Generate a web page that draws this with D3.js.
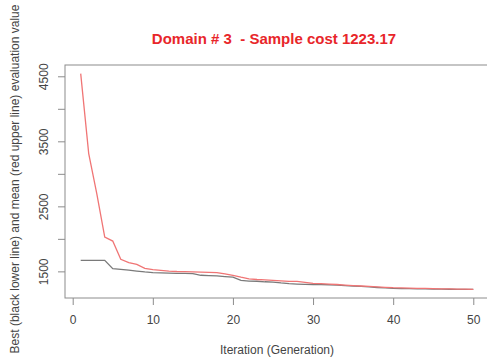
<!DOCTYPE html>
<html>
<head>
<meta charset="utf-8">
<script src="https://cdn.jsdelivr.net/npm/d3@7"></script>
<style>
  body { margin: 0; background: #fff; }
  svg { display: block; font-family: "Liberation Sans", Arial, sans-serif; }
</style>
</head>
<body>
<svg id="canvas" width="487" height="362"></svg>
<script>
// ------------------------------------------------------------------ //
// Data

var iteration = d3.range(1, 51);
var mean_cost = [4541, 3311, 2700, 2028, 1966, 1685, 1634, 1608, 1545, 1526,
                 1515, 1505, 1498, 1495, 1492, 1488, 1485, 1482, 1460, 1438,
                 1410, 1385, 1375, 1368, 1362, 1355, 1346, 1345, 1330, 1315,
                 1310, 1305, 1298, 1290, 1282, 1275, 1268, 1262, 1255, 1249,
                 1246, 1243, 1240, 1237, 1234, 1232, 1230, 1228, 1226, 1224];
var best_cost = [1669, 1669, 1669, 1669, 1541, 1530, 1520, 1505, 1492, 1482,
                 1478, 1474, 1470, 1468, 1465, 1440, 1436, 1432, 1420, 1410,
                 1360, 1350, 1348, 1340, 1335, 1322, 1312, 1305, 1300, 1298,
                 1296, 1294, 1290, 1282, 1275, 1268, 1260, 1252, 1245, 1238,
                 1236, 1234, 1232, 1230, 1228, 1226, 1225, 1224, 1223.5, 1223.17];
var x_ticks = [0, 10, 20, 30, 40, 50];
var y_ticks = [1500, 2000, 2500, 3000, 3500, 4000, 4500];
var y_labels = [1500, 2500, 3500, 4500];

var title_text = 'Domain # 3  - Sample cost 1223.17';
var x_title = 'Iteration (Generation)';
var y_title = 'Best (black lower line) and mean (red upper line) evaluation value';

// ------------------------------------------------------------------ //
// Layout

var plot = { left: 65, right: 489, top: 65, bottom: 298 };
var svg = d3.select('#canvas');

// R style 4% padding on both axes
function padded(ext){ var r = ext[1] - ext[0]; return [ext[0] - 0.04*r, ext[1] + 0.04*r]; }

var xScale = d3.scaleLinear().domain(padded(d3.extent(iteration))).range([plot.left, plot.right]);
var yScale = d3.scaleLinear().domain(padded(d3.extent(mean_cost.concat(best_cost)))).range([plot.bottom, plot.top]);

var axis_col = '#8c8c8c', text_col = '#444';

// box
svg.append('rect')
  .attr('x', plot.left).attr('y', plot.top)
  .attr('width', plot.right - plot.left).attr('height', plot.bottom - plot.top)
  .style('fill', 'none').style('stroke', axis_col).style('stroke-width', 1);

// x axis
var xAxis = svg.append('g').attr('transform', 'translate(0,' + plot.bottom + ')')
  .call(d3.axisBottom(xScale).tickValues(x_ticks).tickSize(7).tickPadding(10).tickFormat(d3.format('d')));
xAxis.select('.domain').remove();
xAxis.selectAll('line').style('stroke', axis_col);
xAxis.selectAll('text').style('font-size', '12px').style('fill', text_col).style('font-family', '"Liberation Sans", Arial, sans-serif');

// y axis (labels only on every other tick, like R drops overlapping ones)
var yAxis = svg.append('g').attr('transform', 'translate(' + plot.left + ',0)')
  .call(d3.axisLeft(yScale).tickValues(y_ticks).tickSize(7).tickFormat(function(d){ return y_labels.indexOf(d) >= 0 ? d : ''; }));
yAxis.select('.domain').remove();
yAxis.selectAll('line').style('stroke', axis_col);
yAxis.selectAll('text')
  .attr('x', 0).attr('dy', 0)
  .attr('transform', 'translate(-17,0) rotate(-90)')
  .style('text-anchor', 'middle')
  .style('font-size', '12px').style('fill', text_col).style('font-family', '"Liberation Sans", Arial, sans-serif');

// lines
var lineGen = d3.line().x(function(d){ return xScale(d[0]); }).y(function(d){ return yScale(d[1]); });
svg.append('path')
  .attr('d', lineGen(iteration.map(function(d, i){ return [d, best_cost[i]]; })))
  .style('fill', 'none').style('stroke', '#7a7a7a').style('stroke-width', 1.3);
svg.append('path')
  .attr('d', lineGen(iteration.map(function(d, i){ return [d, mean_cost[i]]; })))
  .style('fill', 'none').style('stroke', '#f07575').style('stroke-width', 1.3);

// titles
svg.append('text').attr('x', 274).attr('y', 44).attr('text-anchor', 'middle')
  .style('font-size', '15px').style('font-weight', 'bold').style('fill', '#e8262a')
  .style('white-space', 'pre')
  .text(title_text);
svg.append('text').attr('x', 277).attr('y', 354).attr('text-anchor', 'middle')
  .style('font-size', '12px').style('fill', text_col).text(x_title);
svg.append('text').attr('transform', 'translate(19,179) rotate(-90)').attr('text-anchor', 'middle')
  .style('font-size', '12px').style('fill', text_col).text(y_title);
</script>
</body>
</html>
